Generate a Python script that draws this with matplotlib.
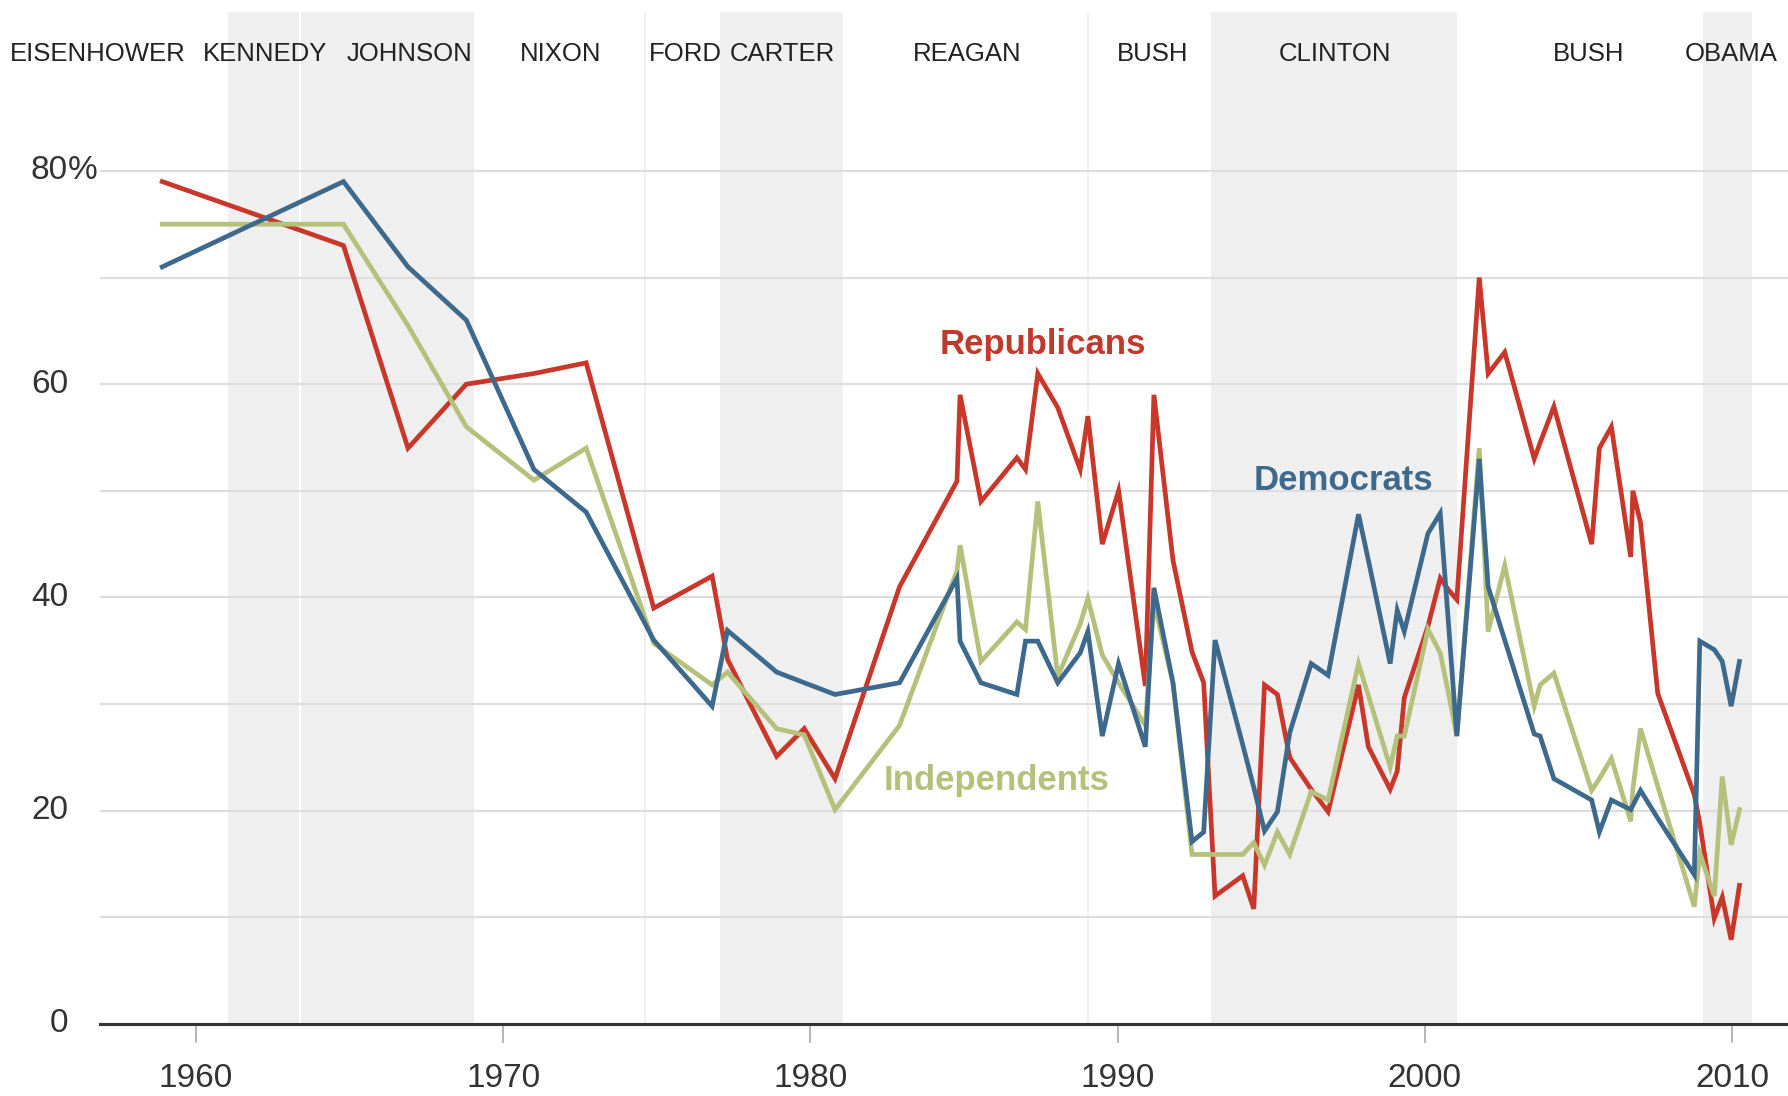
import matplotlib
matplotlib.use('Agg')
import matplotlib.pyplot as plt
from matplotlib import font_manager

# Dates of the polls (fractional years)
years = [1958.9, 1964.8, 1966.9, 1968.8, 1971.0, 1972.7, 1974.9, 1976.8, 1977.3,
         1978.9, 1979.8, 1980.8, 1982.9, 1984.77, 1984.87, 1985.55, 1986.72, 1987.0,
         1987.4, 1988.05, 1988.78, 1989.03, 1989.5, 1990.03, 1990.9, 1991.18, 1991.8,
         1992.42, 1992.8, 1993.17, 1994.07, 1994.43, 1994.78, 1995.2, 1995.6, 1996.3,
         1996.85, 1997.84, 1998.16, 1998.87, 1999.1, 1999.33, 2000.1, 2000.5, 2000.77,
         2001.04, 2001.77, 2002.06, 2002.6, 2003.56, 2003.75, 2004.2, 2005.43, 2005.68,
         2006.07, 2006.7, 2006.77, 2007.02, 2007.58, 2008.77, 2008.95, 2009.42, 2009.68,
         2009.97, 2010.24]

republicans = [79, 73, 54, 60, 61, 62, 39, 42, 34.2,
               25.1, 27.7, 23, 41, 50.9, 59, 49, 53.1, 52,
               61, 57.8, 52, 57, 45, 50, 31.7, 59, 43.5,
               34.9, 32, 12, 13.9, 10.8, 31.8, 30.9, 25, 22,
               19.9, 31.8, 26, 22, 23.7, 30.6, 37.3, 41.8, 40.7,
               39.8, 70, 61, 63, 53, 54.5, 57.9, 45, 54,
               56, 43.8, 50, 47, 31, 21.5, 18.8, 9.9, 11.9,
               7.9, 13]

democrats = [71, 79, 71, 66, 52, 48, 36, 29.8, 36.9,
             33, 32, 30.9, 32, 41.8, 35.9, 32, 30.9, 35.9,
             35.9, 32, 34.8, 36.8, 27, 33.8, 26, 40.9, 32,
             17.1, 18, 36, 26.2, 22.2, 18.1, 19.9, 27.3, 33.8,
             32.7, 47.8, 43.5, 33.8, 38.8, 36.8, 46, 47.9, 37.5,
             27, 53, 41, 36, 27.2, 27, 23, 21, 18,
             21, 20.1, 20.5, 21.9, 19.3, 14, 35.9, 35.1, 34,
             29.8, 34]

independents = [75, 75, 65.5, 56, 51, 54, 35.7, 31.8, 33,
                27.7, 27.1, 20.1, 28, 42.5, 44.9, 34, 37.7, 37,
                49, 32.6, 37.5, 39.9, 34.6, 32, 28, 39.5, 32,
                15.9, 15.9, 15.9, 15.9, 17, 14.9, 18, 15.9, 21.8,
                21, 33.8, 30.8, 24.1, 27, 27, 37, 34.8, 31,
                27, 54, 36.8, 43, 29.8, 31.8, 32.9, 21.9, 23,
                24.9, 19, 22, 27.7, 22.3, 11, 16, 12, 23.2,
                16.8, 20.1]

# Presidents: name, start and end of term, party
presidents = ['EISENHOWER', 'KENNEDY', 'JOHNSON', 'NIXON', 'FORD', 'CARTER',
              'REAGAN', 'BUSH', 'CLINTON', 'BUSH', 'OBAMA']
term_start = [1953.05, 1961.05, 1963.4, 1969.05, 1974.6, 1977.05,
              1981.05, 1989.05, 1993.05, 2001.05, 2009.05]
term_end = [1961.05, 1963.4, 1969.05, 1974.6, 1977.05, 1981.05,
            1989.05, 1993.05, 2001.05, 2009.05, 2010.65]
democrat_pres = [False, True, True, False, False, True,
                 False, False, True, False, True]
# where the names sit along the top
name_x = [1956.8, 1962.26, 1966.94, 1971.86, 1975.92, 1979.08,
          1985.09, 1991.14, 1997.08, 2005.32, 2009.96]

yticks = [0, 20, 40, 60, 80]
xticks = [1960, 1970, 1980, 1990, 2000, 2010]

RED = '#c8372a'
BLUE = '#3d6a8c'
GREEN = '#b5c17a'

names = {f.name for f in font_manager.fontManager.ttflist}
if 'Liberation Sans Narrow' in names:
    top_font, top_size = 'Liberation Sans Narrow', 21
else:
    top_font, top_size = 'Liberation Sans', 18.5

plt.rcParams['font.family'] = ['Liberation Sans', 'DejaVu Sans']

fig = plt.figure(figsize=(17.88, 10.96), dpi=100)
ax = fig.add_axes([100 / 1788, 72 / 1096, 1688 / 1788, 1012 / 1096])
ax.set_xlim(1956.875, 2011.82)
ax.set_ylim(0, 94.9)

# Democratic presidencies shaded
for s, e, dem in zip(term_start, term_end, democrat_pres):
    if dem:
        ax.axvspan(s, e, color='#efefef', lw=0, zorder=0)

# thin separators between terms of the same party
ax.axvline(1963.4, color='white', lw=1.5, zorder=0.5)
for xv in [1974.6, 1989.05]:
    ax.axvline(xv, color='#f1f1f1', lw=1.5, zorder=0.5)

# Grid
ax.set_yticks(range(0, 81, 10))
ax.grid(axis='y', color='#dedede', lw=1.6, zorder=1)
ax.tick_params(axis='y', length=0, labelleft=False)
for v in yticks:
    ax.text(-0.019, v, str(v), transform=ax.get_yaxis_transform(),
            ha='right', va='center', fontsize=24, color='#333333')
ax.text(-0.019, 80, '%', transform=ax.get_yaxis_transform(),
        ha='left', va='center', fontsize=24, color='#333333')

for sp in ['top', 'right', 'left']:
    ax.spines[sp].set_visible(False)
ax.spines['bottom'].set_color('#333333')
ax.spines['bottom'].set_linewidth(2.2)
ax.spines['bottom'].set_zorder(5)

ax.set_xticks(xticks)
ax.set_xticklabels([str(x) for x in xticks])
ax.tick_params(axis='x', length=14, width=1.2, color='#aaaaaa', pad=14,
               labelsize=24, labelcolor='#333333')

# Series
ax.plot(years, republicans, color=RED, lw=3.4, zorder=3, solid_joinstyle='miter')
ax.plot(years, independents, color=GREEN, lw=3.4, zorder=3, solid_joinstyle='miter')
ax.plot(years, democrats, color=BLUE, lw=3.4, zorder=4, solid_joinstyle='miter')

ax.text(1987.58, 63.7, 'Republicans', color='#c0392b', fontsize=25,
        fontweight='bold', ha='center', va='center', zorder=6)
ax.text(1997.34, 51.0, 'Democrats', color=BLUE, fontsize=25,
        fontweight='bold', ha='center', va='center', zorder=6)
ax.text(1986.06, 22.8, 'Independents', color=GREEN, fontsize=25,
        fontweight='bold', ha='center', va='center', zorder=6)

# President names along the top
for name, xn in zip(presidents, name_x):
    ax.text(xn, 91.0, name, family=top_font, fontsize=top_size, color='#222222',
            ha='center', va='center', clip_on=False, zorder=6)

fig.savefig('out.png', dpi=100)
